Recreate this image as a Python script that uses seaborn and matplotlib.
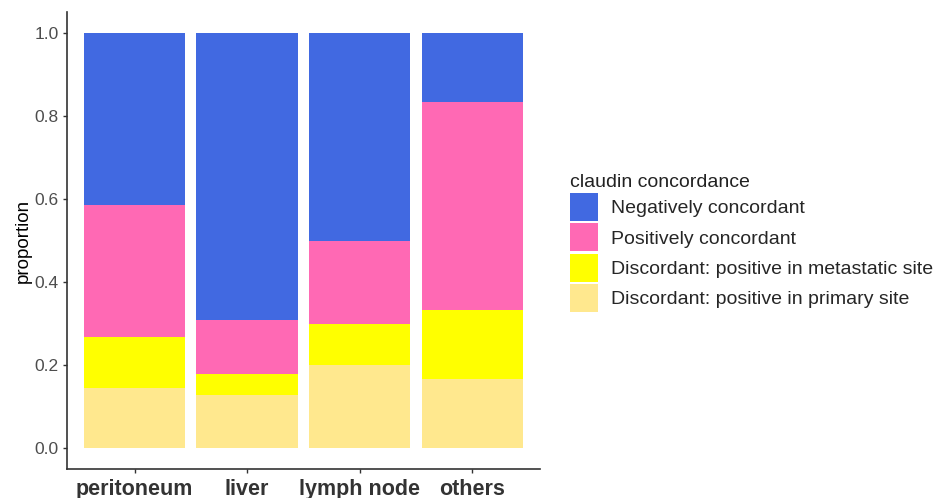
import numpy as np
import pandas as pd
import seaborn as sns
import matplotlib.pyplot as plt
from matplotlib.patches import Patch

# ---------------------------------------------------------------
# Data: proportion of each concordance group per metastatic site
# ---------------------------------------------------------------
sites = ['peritoneum', 'liver', 'lymph node', 'others']
groups = ['Negatively concordant', 'Positively concordant',
          'Discordant: positive in metastatic site',
          'Discordant: positive in primary site']
colors = ['#4169E1', '#FF69B4', '#FFFF00', '#FFE88E']

# segment sizes (bottom -> top order: primary, metastatic, positive, negative)
primary_site = [0.146, 0.128, 0.200, 0.167]
metastatic_site = [0.122, 0.051, 0.100, 0.166]
positive_conc = [0.317, 0.129, 0.200, 0.500]
negative_conc = [0.415, 0.692, 0.500, 0.167]

df = pd.DataFrame({
    'site': sites,
    groups[3]: primary_site,
    groups[2]: metastatic_site,
    groups[1]: positive_conc,
    groups[0]: negative_conc,
})
# cumulative tops, drawn tallest first so shorter layers sit on top
stack_order = [groups[3], groups[2], groups[1], groups[0]]
cum = df[stack_order].cumsum(axis=1)

sns.set_style('white')
plt.rcParams['font.family'] = ['Liberation Sans', 'DejaVu Sans']

fig = plt.figure(figsize=(9.46, 4.98), dpi=100)
ax = fig.add_axes([0.0708, 0.058, 0.5, 0.918])

col_of = dict(zip(groups, colors))
for g in reversed(stack_order):
    sns.barplot(x=df['site'], y=cum[g], color=col_of[g], width=0.9,
                saturation=1, ax=ax, order=sites, linewidth=0)

ax.set_xlim(-0.6, 3.6)
ax.set_ylim(-0.05, 1.05)
ax.set_yticks([0, 0.2, 0.4, 0.6, 0.8, 1.0])
ax.set_yticklabels(['0.0', '0.2', '0.4', '0.6', '0.8', '1.0'])
ax.set_xlabel('')
ax.set_ylabel('proportion', fontsize=13.5, color='black', labelpad=2)

for s in ['top', 'right']:
    ax.spines[s].set_visible(False)
for s in ['left', 'bottom']:
    ax.spines[s].set_color('#333333')
    ax.spines[s].set_linewidth(1.2)

ax.tick_params(axis='y', left=True, length=3, width=1, colors='#333333',
               labelcolor='#4D4D4D', labelsize=12.5, pad=3)
ax.tick_params(axis='x', bottom=True, length=3, width=1, colors='#333333',
               labelcolor='#333333', labelsize=15.5, pad=4)
for t in ax.get_xticklabels():
    t.set_fontweight('bold')

handles = [Patch(facecolor=c, edgecolor='none', label=g)
           for g, c in zip(groups, colors)]
leg = fig.legend(handles=handles, title='claudin concordance',
                 loc='upper left', bbox_to_anchor=(0.594, 0.667),
                 frameon=False, fontsize=14, title_fontsize=14,
                 handlelength=1.45, handleheight=1.84, labelspacing=0.12,
                 handletextpad=0.65, borderaxespad=0)
leg._legend_box.align = 'left'
leg.get_title().set_color('#222222')

fig.savefig('out.png', dpi=100)
